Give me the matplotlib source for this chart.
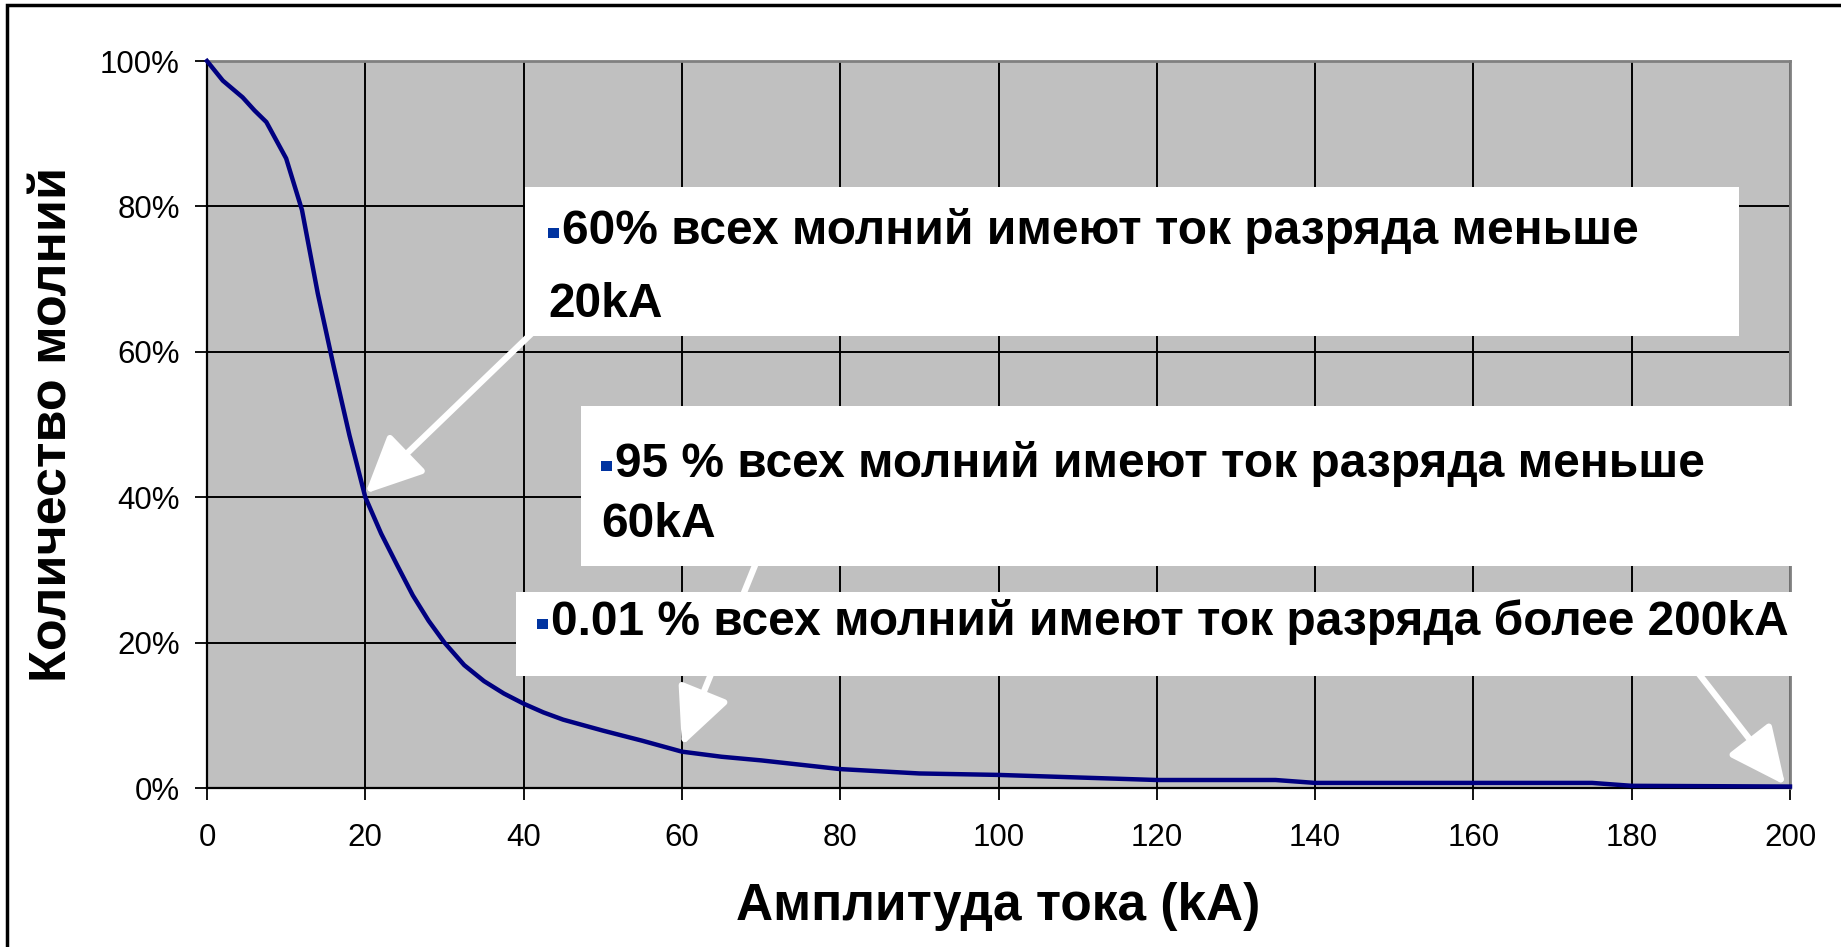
import matplotlib
matplotlib.use("Agg")
import matplotlib.pyplot as plt
from matplotlib.patches import Rectangle

plt.rcParams['font.family'] = ['Liberation Sans', 'DejaVu Sans']

# амплитуда тока (kA) и доля молний (%)
current_ka = [0, 2, 4.5, 6, 7.5, 10, 12, 14, 16, 18, 20, 22, 24, 26, 28, 30,
              32.5, 35, 37.5, 40, 42.5, 45, 50, 55, 60, 65, 70, 80, 90, 100,
              120, 135, 140, 175, 180, 200]
share_pct = [100, 97.3, 95, 93.2, 91.6, 86.6, 79.5, 68, 58, 48.5, 40, 35, 30.7,
             26.5, 23, 20, 16.9, 14.7, 13, 11.6, 10.4, 9.4, 7.9, 6.5, 5.0, 4.3,
             3.8, 2.6, 2.0, 1.8, 1.1, 1.1, 0.7, 0.7, 0.3, 0.2]

x_ticks = [0, 20, 40, 60, 80, 100, 120, 140, 160, 180, 200]
y_ticks = [0, 20, 40, 60, 80, 100]

notes = [
    ["60% всех молний имеют ток разряда меньше", "20kA"],
    ["95 % всех молний имеют ток разряда меньше", "60kA"],
    ["0.01 % всех молний имеют ток разряда более 200kA"],
]

W, H = 1841, 947
fig = plt.figure(figsize=(W / 100, H / 100), dpi=100)


def fx(px):
    return px / W


def fy(py):
    return 1 - py / H


ax = fig.add_axes([fx(207), fy(788), fx(1790) - fx(207), fy(61) - fy(788)])
ax.set_facecolor('#C0C0C0')
ax.plot(current_ka, share_pct, color='#000080', lw=3.2, zorder=3, clip_on=False)

ax.set_xlim(0, 200)
ax.set_ylim(0, 100)
ax.set_xticks(x_ticks)
ax.set_yticks(y_ticks)
ax.set_yticklabels([f"{v}%" for v in y_ticks])
ax.grid(True, color='black', lw=1.4, zorder=1)
ax.set_axisbelow(True)
ax.tick_params(direction='out', length=8.5, width=1.3, labelsize=22.5)
ax.tick_params(axis='x', pad=17)
ax.tick_params(axis='y', pad=11)
for s in ['top', 'right']:
    ax.spines[s].set_color('#808080')
    ax.spines[s].set_linewidth(2)
for s in ['left', 'bottom']:
    ax.spines[s].set_color('black')
    ax.spines[s].set_linewidth(1.6)

fig.text(fx(998), fy(906), "Амплитуда тока (kA)", fontsize=37, fontweight='bold',
         ha='center', va='center')
fig.text(fx(53), fy(424), "Количество молний", fontsize=37.5, fontweight='bold',
         ha='center', va='center', rotation=90)

# white arrows
arrows = [((42.7, 64.3), (20, 40.5)),
          ((69.9, 32.4), (60, 5.8)),
          ((187.2, 17.5), (199.4, 0.4))]
for tail, tip in arrows:
    ax.annotate('', xy=tip, xytext=tail, annotation_clip=False,
                arrowprops=dict(arrowstyle='-|>,head_length=1.6,head_width=0.75',
                                color='white', lw=4.5, mutation_scale=22,
                                shrinkA=0, shrinkB=0),
                zorder=5)

# text boxes: (left, top, right, bottom), bullet x, baselines
boxes = [((525, 187, 1739, 336), 548, [244, 317]),
         ((581, 406, 1800, 566), 601, [477, 537]),
         ((516, 592, 1800, 676), 537, [635])]

for i, ((l, t, r, b), bx, baselines) in enumerate(boxes):
    ax.add_patch(Rectangle((fx(l), fy(b)), fx(r) - fx(l), fy(t) - fy(b),
                           transform=fig.transFigure, facecolor='white',
                           edgecolor='none', zorder=6, clip_on=False))
    yb = baselines[0]
    ax.add_patch(Rectangle((fx(bx), fy(yb - 6)), fx(11), fy(0) - fy(10),
                           transform=fig.transFigure, facecolor='#0033A0',
                           edgecolor='none', zorder=7, clip_on=False))
    for j, (line, base) in enumerate(zip(notes[i], baselines)):
        x0 = bx + 14 if j == 0 else bx
        ax.text(fx(x0), fy(base), line, transform=fig.transFigure,
                fontsize=34.5, fontweight='bold', ha='left', va='baseline',
                zorder=8, clip_on=False)

# outer frame
fig.add_artist(Rectangle((fx(7), fy(H + 20)), fx(W + 40), fy(5) - fy(H + 20),
                         transform=fig.transFigure, facecolor='none',
                         edgecolor='black', lw=2.5))

fig.savefig("out.png", dpi=100)
